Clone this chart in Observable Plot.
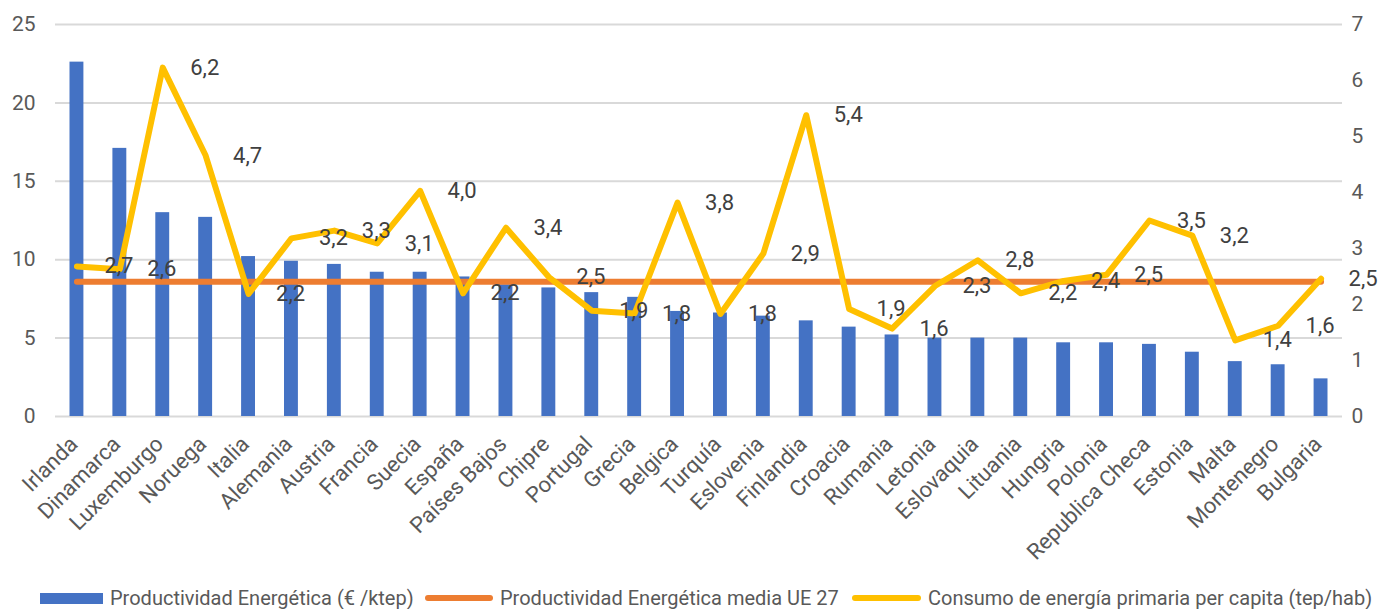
<!DOCTYPE html>
<html>
<head>
<meta charset="utf-8">
<script src="https://cdn.jsdelivr.net/npm/d3@7"></script>
<script src="https://cdn.jsdelivr.net/npm/@observablehq/plot@0.6"></script>
<style>
  html, body { margin: 0; padding: 0; background: #fff; }
  #wrap { position: relative; width: 1378px; height: 609px; overflow: hidden; font-family: Roboto, sans-serif; }
  .leg { position: absolute; top: 586px; display: flex; align-items: center; height: 24px; font-size: 20px; color: #595959; white-space: nowrap; }
  .sw { display: inline-block; margin-right: 7px; }
</style>
</head>
<body>
<div id="wrap"></div>
<script>
const countries = ["Irlanda","Dinamarca","Luxemburgo","Noruega","Italia","Alemania","Austria","Francia","Suecia","España","Países Bajos","Chipre","Portugal","Grecia","Belgica","Turquía","Eslovenia","Finlandia","Croacia","Rumania","Letonia","Eslovaquia","Lituania","Hungria","Polonia","Republica Checa","Estonia","Malta","Montenegro","Bulgaria"];
const productividad = [22.6,17.1,13.0,12.7,10.2,9.9,9.7,9.2,9.2,8.9,8.4,8.2,7.9,7.6,6.7,6.6,6.4,6.1,5.7,5.2,5.0,5.0,5.0,4.7,4.7,4.6,4.1,3.5,3.3,2.4];
const mediaUE27 = 8.6;
const consumo = [2.68,2.63,6.23,4.66,2.19,3.18,3.32,3.09,4.03,2.2,3.37,2.49,1.89,1.84,3.82,1.83,2.91,5.38,1.92,1.57,2.33,2.79,2.2,2.42,2.53,3.5,3.23,1.36,1.62,2.46];
const leftTicks = [0,5,10,15,20,25];
const rightTicks = [0,1,2,3,4,5,6,7];
const seriesNames = ["Productividad Energética (€ /ktep)","Productividad Energética media UE 27","Consumo de energía primaria per capita (tep/hab)"];
const colors = ["#4472C4","#ED7D31","#FFC000"];

const LMAX = 25, RMAX = 7;
const toLeft = v => v * LMAX / RMAX;

const rows = countries.map((c, i) => ({
  pais: c,
  prod: productividad[i],
  media: mediaUE27,
  cons: consumo[i],
  consL: toLeft(consumo[i]),
  label: consumo[i].toFixed(1).replace(".", ",")
}));

const chart = Plot.plot({
  width: 1378,
  height: 580,
  marginLeft: 55,
  marginRight: 36,
  marginTop: 24,
  marginBottom: 164,
  style: { fontFamily: "Roboto, sans-serif", fontSize: "21px", color: "#595959", background: "#fff" },
  x: { domain: countries, padding: 0, round: false, label: null },
  y: { domain: [0, LMAX], label: null },
  marks: [
    Plot.gridY(leftTicks, { stroke: "#d9d9d9", strokeOpacity: 1, strokeWidth: 2 }),
    Plot.axisY(leftTicks, { anchor: "left", tickSize: 0, tickPadding: 20, fontSize: 21, fill: "#595959", label: null }),
    Plot.axisY(rightTicks.map(toLeft), { anchor: "right", tickSize: 0, tickPadding: 9, fontSize: 21, fill: "#595959", tickFormat: d => String(Math.round(d * RMAX / LMAX)), label: null }),
    Plot.axisX({ tickSize: 0, tickPadding: 24, dx: -3, tickRotate: -45, fontSize: 22, fill: "#595959", label: null }),
    Plot.barY(rows, { x: "pais", y: "prod", fill: colors[0], insetLeft: 14.5, insetRight: 14.5 }),
    Plot.line(rows, { x: "pais", y: "media", stroke: colors[1], strokeWidth: 6 }),
    Plot.line(rows, { x: "pais", y: "consL", stroke: colors[2], strokeWidth: 6, strokeLinejoin: "round", strokeLinecap: "round" }),
    Plot.text(rows, { x: "pais", y: "consL", text: "label", dx: 42, fontSize: 22, fill: "#404040", textAnchor: "middle", lineAnchor: "middle" })
  ]
});

const wrap = document.getElementById("wrap");
wrap.appendChild(chart);

const legPos = [
  { left: 40, sw: 63, h: 11, r: 0 },
  { left: 425, sw: 68, h: 6, r: 3 },
  { left: 852, sw: 69, h: 6, r: 3 }
];
seriesNames.forEach((name, i) => {
  const item = document.createElement("div");
  item.className = "leg";
  item.style.left = legPos[i].left + "px";
  const sw = document.createElement("span");
  sw.className = "sw";
  sw.style.width = legPos[i].sw + "px";
  sw.style.height = legPos[i].h + "px";
  sw.style.background = colors[i];
  sw.style.borderRadius = legPos[i].r + "px";
  item.appendChild(sw);
  const t = document.createElement("span");
  t.textContent = name;
  item.appendChild(t);
  wrap.appendChild(item);
});
</script>
</body>
</html>
